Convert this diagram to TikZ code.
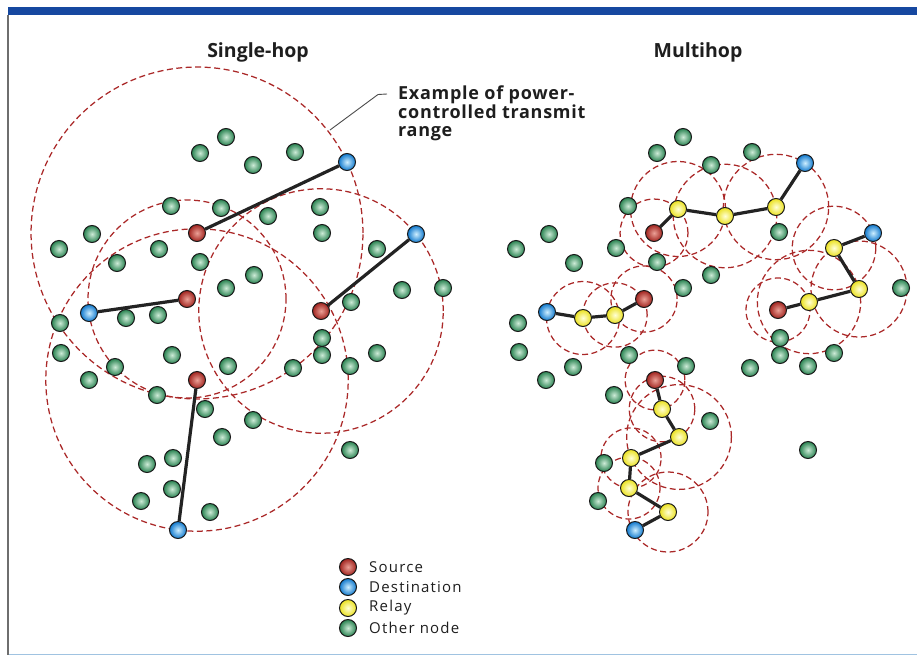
\documentclass[tikz,border=0pt]{standalone}
\usepackage{fontspec}
\setmainfont{Open Sans}
\newfontfamily\legendfont[LetterSpace=8]{Open Sans}
\newfontfamily\annfont[LetterSpace=4]{Open Sans}
\usetikzlibrary{calc,backgrounds}
\definecolor{barblue}{RGB}{22,72,160}
\definecolor{framegray}{RGB}{110,110,110}
\definecolor{bottomblue}{RGB}{160,195,225}
\definecolor{rangered}{RGB}{170,40,40}
\definecolor{linkgray}{RGB}{35,35,35}
\definecolor{nodeborder}{RGB}{25,25,25}
\definecolor{gOut}{RGB}{40,130,80}
\definecolor{gIn}{RGB}{205,235,215}
\definecolor{rOut}{RGB}{160,35,30}
\definecolor{rIn}{RGB}{235,160,150}
\definecolor{bOut}{RGB}{15,120,205}
\definecolor{bIn}{RGB}{205,238,255}
\definecolor{yOut}{RGB}{235,225,30}
\definecolor{yIn}{RGB}{255,255,215}
\definecolor{textdark}{RGB}{30,30,30}
\tikzset{
  ball/.style={circle,draw=nodeborder,line width=1pt,minimum size=17pt,inner sep=0pt},
  other/.style={ball,inner color=gIn,outer color=gOut},
  src/.style={ball,inner color=rIn,outer color=rOut},
  dst/.style={ball,inner color=bIn,outer color=bOut},
  relay/.style={ball,inner color=yIn,outer color=yOut},
  link/.style={draw=linkgray,line width=3.2pt},
  rangeline/.style={draw=rangered,line width=1.25pt,dash pattern=on 6pt off 3.5pt},
  title/.style={font=\bfseries\fontsize{19.5}{22}\selectfont,text=textdark},
  legendtext/.style={anchor=west,font=\legendfont\fontsize{15}{18}\selectfont,text=textdark,inner sep=0pt},
  leader/.style={draw=textdark!80,line width=0.9pt}
}
\newcommand\rangecirc[2]{\draw[rangeline] let \p1=($(#2)-(#1)$), \n1={veclen(\x1,\y1)} in (#1) circle[radius=\n1];}
\begin{document}
\begin{tikzpicture}[x=1pt,y=-1pt]
\useasboundingbox (0,0) rectangle (917,656);
% frame
\fill[barblue] (8,7) rectangle (917,15);
\draw[framegray,line width=1.6pt] (8,15) -- (8,655);
\draw[bottomblue,line width=1.6pt] (9,654.5) -- (917,654.5);
% titles
\node[title] (t1) at (258,52) {Single-hop};
\node[title] (t2) at (698,52) {Multihop};
\node[anchor=north west,align=left,inner sep=0pt,font=\annfont\bfseries\fontsize{18}{18.5}\selectfont,text=textdark] (ann) at (398,86) {Example of power-\\controlled transmit\\range};
\coordinate (l1) at (387,94);
\coordinate (l2) at (378,94.5);
\coordinate (l3) at (330,130);
\draw[leader] (l1) -- (l2) -- (l3);
% ---------- Single-hop ----------
\foreach \p [count=\i] in {(226,137),(200,153),(253,165),(295,152),(171,206),(221,208),(268,216),(320,207),(322,233),(92,234),(59,249),(159,249),(117,263),(200,262),(254,275),(226,288),(377,249),(402,290),(443,288),(351,302),(60,323),(126,318),(158,315),(61,353),(172,355),(115,367),(89,380),(157,395),(228,366),(205,409),(253,420),(222,437),(293,368),(322,338),(322,355),(350,366),(377,353),(350,450),(173,458),(147,464),(172,489),(141,501),(210,512)}
  \node[other] (sg\i) at \p {};
\node[src] (s1) at (197,233) {};
\node[src] (s2) at (187,299) {};
\node[src] (s3) at (321,311) {};
\node[src] (s4) at (197,380) {};
\node[dst] (d1) at (347,162) {};
\node[dst] (d2) at (89,313) {};
\node[dst] (d3) at (416,234) {};
\node[dst] (d4) at (178,530) {};
\draw[link] (s1) -- (d1);
\draw[link] (s2) -- (d2);
\draw[link] (s3) -- (d3);
\draw[link] (s4) -- (d4);
% ---------- Multihop ----------
\foreach \p [count=\i] in {(683,137),(657,153),(711,165),(752,152),(628,206),(779,232),(549,234),(516,249),(616,248),(574,263),(657,262),(711,275),(683,288),(901,288),(518,323),(519,352),(573,367),(546,380),(629,355),(686,366),(614,395),(710,421),(604,463),(598,501),(750,368),(780,338),(780,355),(808,366),(834,353),(808,450)}
  \node[other] (mg\i) at \p {};
% chain A
\node[src] (ra) at (654,233) {};
\node[relay] (ya1) at (678,209) {};
\node[relay] (ya2) at (725,216) {};
\node[relay] (ya3) at (776,207) {};
\node[dst] (da) at (805,163) {};
% chain B
\node[src] (rb) at (778,310) {};
\node[relay] (yb1) at (809,302) {};
\node[relay] (yb2) at (859,289) {};
\node[relay] (yb3) at (834,248) {};
\node[dst] (db) at (873,233) {};
% chain C
\node[src] (rc) at (644,299) {};
\node[relay] (yc1) at (615,315) {};
\node[relay] (yc2) at (583,318) {};
\node[dst] (dc) at (547,312) {};
% chain D
\node[src] (rd) at (655,380) {};
\node[relay] (yd1) at (662,409) {};
\node[relay] (yd2) at (679,437) {};
\node[relay] (yd3) at (631,458) {};
\node[relay] (yd4) at (629,488) {};
\node[relay] (yd5) at (668,512) {};
\node[dst] (dd) at (635,530) {};
\draw[link] (ra) -- (ya1) -- (ya2) -- (ya3) -- (da);
\draw[link] (rb) -- (yb1) -- (yb2) -- (yb3) -- (db);
\draw[link] (rc) -- (yc1) -- (yc2) -- (dc);
\draw[link] (rd) -- (yd1) -- (yd2) -- (yd3) -- (yd4) -- (yd5) -- (dd);
% ---------- Legend ----------
\node[src] (ls) at (348,567) {};
\node[dst] (ld) at (348,587) {};
\node[relay] (lr) at (348,608) {};
\node[other] (lo) at (348,628) {};
\node[legendtext] (lts) at (369,567) {Source};
\node[legendtext] (ltd) at (369,587) {Destination};
\node[legendtext] (ltr) at (369,608) {Relay};
\node[legendtext] (lto) at (369,628) {Other node};
% ---------- ranges ----------
\begin{pgfonlayer}{background}
\rangecirc{s1}{d1}
\rangecirc{s2}{d2}
\rangecirc{s3}{d3}
\rangecirc{s4}{d4}
\rangecirc{ra}{ya1}
\rangecirc{ya1}{ya2}
\rangecirc{ya2}{ya3}
\rangecirc{ya3}{da}
\rangecirc{rb}{yb1}
\rangecirc{yb1}{yb2}
\rangecirc{yb2}{yb3}
\rangecirc{yb3}{db}
\rangecirc{rc}{yc1}
\rangecirc{yc1}{yc2}
\rangecirc{yc2}{dc}
\rangecirc{rd}{yd1}
\rangecirc{yd1}{yd2}
\rangecirc{yd2}{yd3}
\rangecirc{yd3}{yd4}
\draw[rangeline] (yd4) circle[radius=31pt];
\draw[rangeline] (yd5) circle[radius=40pt];
\end{pgfonlayer}
\end{tikzpicture}
\end{document}
